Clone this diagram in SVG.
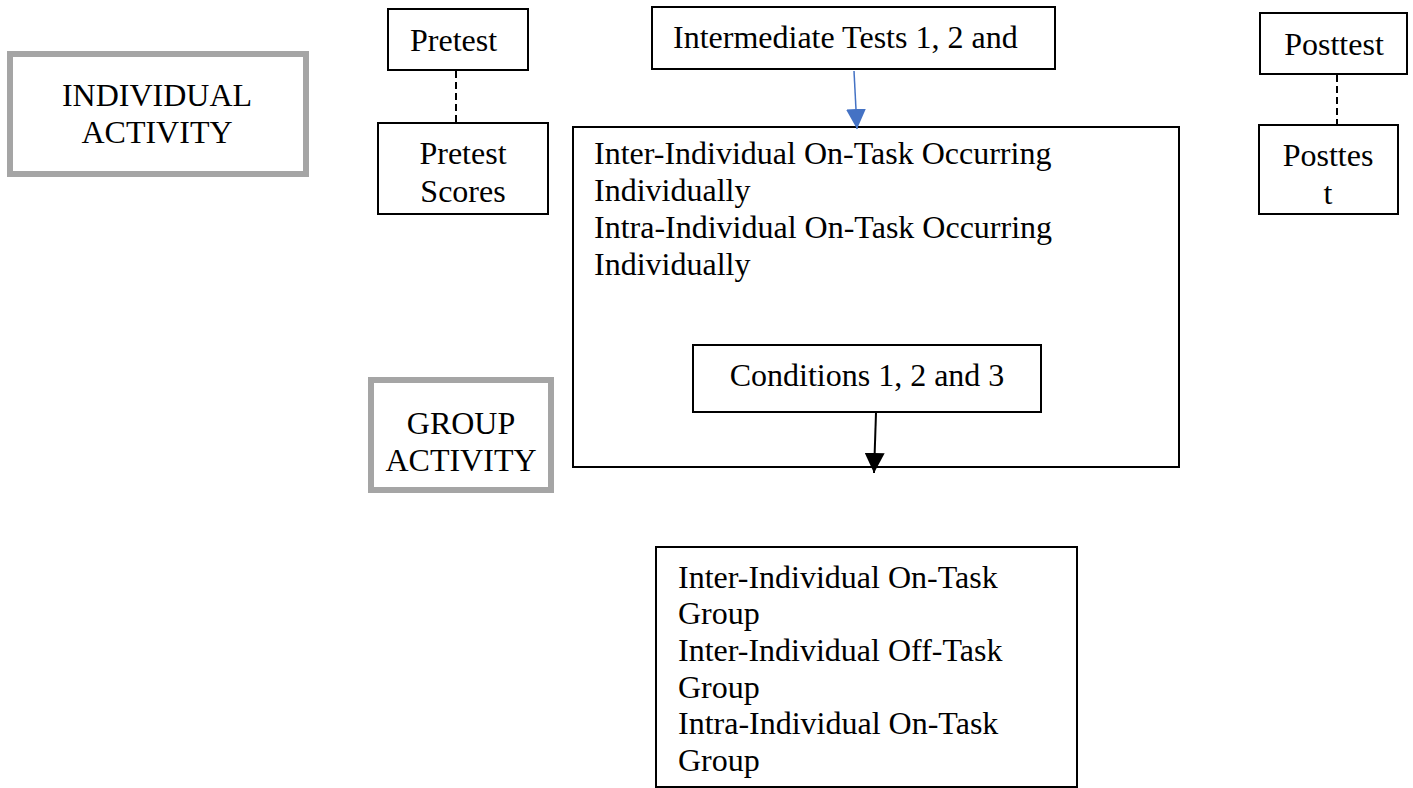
<svg xmlns="http://www.w3.org/2000/svg" width="1413" height="788" viewBox="0 0 1413 788">
  <style>
    .box { fill: #ffffff; stroke: #000000; stroke-width: 2; }
    .activity { fill: #ffffff; stroke: #a5a5a5; stroke-width: 6; }
    .label { font-family: "Liberation Serif", "Times New Roman", serif; font-size: 32px; fill: #000000; }
    .mid { text-anchor: middle; }
    .dash { stroke: #000000; stroke-width: 2; stroke-dasharray: 7 4; fill: none; }
  </style>
  <defs>
    <marker id="head-blue" viewBox="0 0 20 20" refX="20" refY="10" markerWidth="20" markerHeight="20" markerUnits="userSpaceOnUse" orient="auto">
      <path d="M0,0 L20,10 L0,20 Z" fill="#4472c4"/>
    </marker>
    <marker id="head-black" viewBox="0 0 20 20" refX="20" refY="10" markerWidth="20" markerHeight="20" markerUnits="userSpaceOnUse" orient="auto">
      <path d="M0,0 L20,10 L0,20 Z" fill="#000000"/>
    </marker>
  </defs>
  <rect width="1413" height="788" fill="#ffffff"/>

  <g id="individual-activity">
    <rect class="activity" x="10" y="54" width="296" height="120"/>
    <text class="label mid" x="157" y="106">INDIVIDUAL</text>
    <text class="label mid" x="157" y="143">ACTIVITY</text>
  </g>

  <g id="group-activity">
    <rect class="activity" x="371" y="380" width="180" height="110"/>
    <text class="label mid" x="461" y="434">GROUP</text>
    <text class="label mid" x="461" y="471">ACTIVITY</text>
  </g>

  <g id="pretest">
    <rect class="box" x="388" y="9" width="140" height="61"/>
    <text class="label" x="410" y="51">Pretest</text>
  </g>

  <g id="pretest-scores">
    <rect class="box" x="378" y="123" width="170" height="91"/>
    <text class="label mid" x="463" y="164">Pretest</text>
    <text class="label mid" x="463" y="202">Scores</text>
  </g>

  <g id="intermediate-tests">
    <rect class="box" x="652" y="7" width="403" height="62"/>
    <text class="label" x="673" y="48">Intermediate Tests 1, 2 and</text>
  </g>

  <g id="individual-measures">
    <rect class="box" x="573" y="127" width="606" height="340"/>
    <text class="label" x="594" y="164">Inter-Individual On-Task Occurring</text>
    <text class="label" x="594" y="201">Individually</text>
    <text class="label" x="594" y="238">Intra-Individual On-Task Occurring</text>
    <text class="label" x="594" y="275">Individually</text>
  </g>

  <g id="conditions">
    <rect class="box" x="693" y="345" width="348" height="67"/>
    <text class="label mid" x="867" y="386">Conditions 1, 2 and 3</text>
  </g>

  <g id="posttest">
    <rect class="box" x="1260" y="13" width="147" height="61"/>
    <text class="label mid" x="1334" y="55">Posttest</text>
  </g>

  <g id="posttest-scores">
    <rect class="box" x="1259" y="125" width="139" height="89"/>
    <text class="label mid" x="1328" y="166">Posttes</text>
    <text class="label mid" x="1328" y="204">t</text>
  </g>

  <g id="group-measures">
    <rect class="box" x="656" y="547" width="421" height="240"/>
    <text class="label" x="678" y="588">Inter-Individual On-Task</text>
    <text class="label" x="678" y="624">Group</text>
    <text class="label" x="678" y="661">Inter-Individual Off-Task</text>
    <text class="label" x="678" y="698">Group</text>
    <text class="label" x="678" y="734">Intra-Individual On-Task</text>
    <text class="label" x="678" y="771">Group</text>
  </g>

  <g id="connectors">
    <line class="dash" x1="456" y1="71" x2="456" y2="123"/>
    <line class="dash" x1="1337" y1="75" x2="1337" y2="125"/>
    <line x1="854" y1="71" x2="857" y2="129" stroke="#4472c4" stroke-width="1.5" marker-end="url(#head-blue)"/>
    <line x1="876" y1="413" x2="874" y2="473" stroke="#000000" stroke-width="2" marker-end="url(#head-black)"/>
  </g>
</svg>
